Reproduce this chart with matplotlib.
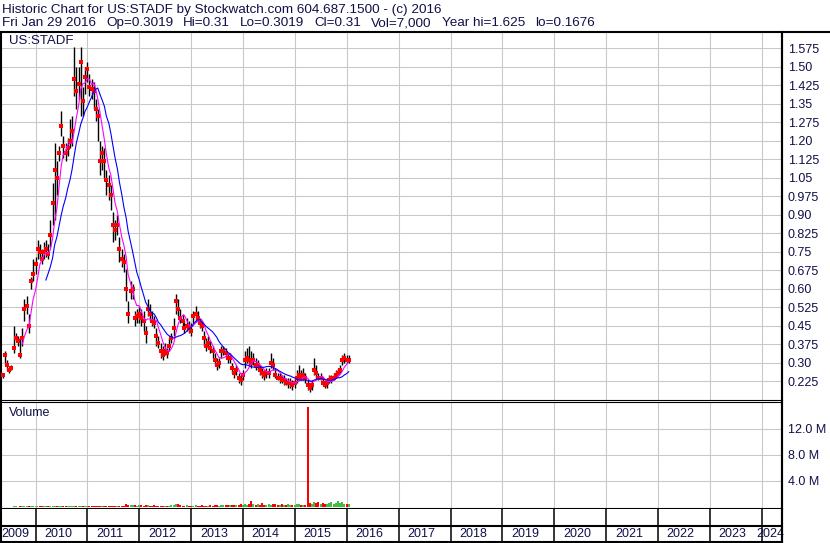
import matplotlib
matplotlib.use("Agg")
import matplotlib.pyplot as plt
from matplotlib.lines import Line2D
import numpy as np
import pandas as pd

plt.rcParams['font.family'] = ['Liberation Sans', 'DejaVu Sans']

# semi-monthly samples, May 2009 - Jan 2016
dates = pd.date_range('2009-05-15', periods=161, freq='SMS')

close = [
    0.25, 0.33, 0.29, 0.27, 0.28, 0.36, 0.40, 0.39, 0.33, 0.40,
    0.52, 0.53, 0.45, 0.63, 0.66, 0.70, 0.76, 0.75, 0.72, 0.75,
    0.76, 0.74, 0.82, 0.95, 1.08, 1.05, 1.15, 1.26, 1.18, 1.15,
    1.17, 1.20, 1.24, 1.45, 1.40, 1.43, 1.52, 1.36, 1.46, 1.49,
    1.42, 1.41, 1.40, 1.33, 1.30, 1.12, 1.15, 1.12, 1.04, 1.02,
    0.98, 0.86, 0.84, 0.86, 0.76, 0.72, 0.71, 0.60, 0.50, 0.59,
    0.60, 0.48, 0.49, 0.50, 0.48, 0.47, 0.42, 0.52, 0.50, 0.47,
    0.46, 0.41, 0.38, 0.35, 0.33, 0.35, 0.34, 0.37, 0.40, 0.44,
    0.55, 0.52, 0.48, 0.47, 0.44, 0.45, 0.44, 0.43, 0.49, 0.50,
    0.48, 0.46, 0.45, 0.40, 0.37, 0.38, 0.36, 0.35, 0.31, 0.29,
    0.30, 0.35, 0.35, 0.34, 0.32, 0.32, 0.28, 0.26, 0.27, 0.24,
    0.23, 0.25, 0.31, 0.32, 0.31, 0.30, 0.31, 0.29, 0.29, 0.27,
    0.26, 0.25, 0.26, 0.26, 0.30, 0.29, 0.25, 0.24, 0.24, 0.23,
    0.23, 0.22, 0.22, 0.22, 0.21, 0.22, 0.24, 0.25, 0.24, 0.25,
    0.24, 0.21, 0.20, 0.21, 0.27, 0.26, 0.24, 0.24, 0.22, 0.21,
    0.22, 0.23, 0.24, 0.24, 0.25, 0.26, 0.27, 0.31, 0.32, 0.31,
    0.31]

high = [
    0.26, 0.35, 0.31, 0.28, 0.29, 0.45, 0.42, 0.41, 0.40, 0.44,
    0.56, 0.57, 0.50, 0.65, 0.72, 0.73, 0.80, 0.78, 0.76, 0.79,
    0.80, 0.78, 0.88, 1.03, 1.19, 1.12, 1.18, 1.32, 1.22, 1.19,
    1.21, 1.29, 1.30, 1.58, 1.50, 1.50, 1.58, 1.42, 1.50, 1.52,
    1.47, 1.45, 1.44, 1.37, 1.33, 1.20, 1.18, 1.17, 1.08, 1.06,
    1.02, 0.91, 0.88, 0.90, 0.81, 0.76, 0.74, 0.68, 0.55, 0.63,
    0.62, 0.51, 0.52, 0.53, 0.52, 0.51, 0.45, 0.56, 0.54, 0.51,
    0.49, 0.44, 0.41, 0.38, 0.37, 0.38, 0.36, 0.40, 0.42, 0.48,
    0.58, 0.56, 0.52, 0.50, 0.47, 0.48, 0.47, 0.46, 0.51, 0.53,
    0.51, 0.48, 0.47, 0.43, 0.40, 0.41, 0.39, 0.37, 0.34, 0.32,
    0.32, 0.37, 0.37, 0.36, 0.34, 0.34, 0.30, 0.28, 0.29, 0.26,
    0.25, 0.27, 0.35, 0.36, 0.37, 0.35, 0.34, 0.32, 0.31, 0.29,
    0.28, 0.27, 0.28, 0.28, 0.34, 0.32, 0.28, 0.26, 0.26, 0.25,
    0.25, 0.24, 0.24, 0.24, 0.23, 0.24, 0.27, 0.29, 0.27, 0.28,
    0.26, 0.23, 0.22, 0.23, 0.32, 0.29, 0.26, 0.26, 0.24, 0.23,
    0.24, 0.25, 0.25, 0.26, 0.27, 0.28, 0.29, 0.33, 0.34, 0.33,
    0.33]

low = [
    0.24, 0.30, 0.27, 0.26, 0.27, 0.34, 0.39, 0.37, 0.32, 0.37,
    0.47, 0.50, 0.42, 0.60, 0.63, 0.66, 0.72, 0.72, 0.70, 0.72,
    0.73, 0.72, 0.77, 0.86, 0.88, 0.98, 1.12, 1.22, 1.13, 1.12,
    1.14, 1.17, 1.18, 1.38, 1.33, 1.37, 1.30, 1.30, 1.39, 1.44,
    1.38, 1.37, 1.33, 1.28, 1.20, 1.06, 1.08, 1.05, 0.98, 0.96,
    0.92, 0.79, 0.80, 0.82, 0.71, 0.69, 0.67, 0.55, 0.46, 0.56,
    0.56, 0.45, 0.46, 0.46, 0.45, 0.43, 0.38, 0.49, 0.47, 0.45,
    0.44, 0.37, 0.36, 0.32, 0.31, 0.33, 0.32, 0.35, 0.38, 0.41,
    0.50, 0.49, 0.46, 0.44, 0.42, 0.43, 0.42, 0.41, 0.46, 0.47,
    0.46, 0.44, 0.43, 0.37, 0.35, 0.36, 0.34, 0.32, 0.29, 0.27,
    0.28, 0.32, 0.33, 0.32, 0.30, 0.30, 0.26, 0.24, 0.25, 0.22,
    0.21, 0.23, 0.28, 0.30, 0.29, 0.28, 0.29, 0.27, 0.27, 0.25,
    0.24, 0.23, 0.24, 0.24, 0.28, 0.27, 0.24, 0.23, 0.22, 0.22,
    0.21, 0.21, 0.20, 0.20, 0.19, 0.20, 0.22, 0.23, 0.23, 0.23,
    0.22, 0.19, 0.18, 0.19, 0.25, 0.24, 0.23, 0.23, 0.21, 0.20,
    0.20, 0.22, 0.22, 0.23, 0.24, 0.25, 0.26, 0.29, 0.30, 0.30,
    0.30]

# volume in millions of shares
volume_m = [
    0.05, 0.08, 0.04, 0.06, 0.05, 0.10, 0.12, 0.08, 0.09, 0.11,
    0.15, 0.13, 0.10, 0.14, 0.12, 0.09, 0.11, 0.13, 0.10, 0.12,
    0.14, 0.10, 0.16, 0.18, 0.15, 0.12, 0.14, 0.16, 0.12, 0.10,
    0.13, 0.11, 0.15, 0.17, 0.14, 0.12, 0.16, 0.13, 0.11, 0.12,
    0.10, 0.12, 0.14, 0.11, 0.13, 0.15, 0.12, 0.14, 0.16, 0.13,
    0.11, 0.15, 0.18, 0.16, 0.20, 0.17, 0.22, 0.45, 0.35, 0.30,
    0.25, 0.28, 0.22, 0.30, 0.26, 0.20, 0.24, 0.30, 0.22, 0.18,
    0.25, 0.20, 0.18, 0.22, 0.17, 0.20, 0.15, 0.18, 0.25, 0.30,
    0.50, 0.40, 0.28, 0.22, 0.20, 0.25, 0.18, 0.22, 0.20, 0.26,
    0.22, 0.19, 0.24, 0.20, 0.18, 0.22, 0.28, 0.20, 0.25, 0.30,
    0.22, 0.35, 0.28, 0.30, 0.25, 0.38, 0.30, 0.25, 0.32, 0.28,
    0.40, 0.30, 0.45, 0.35, 0.50, 0.85, 0.40, 0.35, 0.42, 0.30,
    0.55, 0.38, 0.30, 0.45, 0.35, 0.50, 0.40, 0.32, 0.38, 0.45,
    0.35, 0.30, 0.42, 0.38, 0.35, 0.30, 0.40, 0.45, 0.38, 0.30,
    0.35, 15.3, 0.60, 0.45, 0.80, 0.55, 0.70, 0.40, 0.65, 0.50,
    0.45, 0.60, 0.75, 0.40, 0.55, 0.95, 0.60, 0.70, 0.50, 0.45,
    0.40]

price_ticks = [0.225, 0.30, 0.375, 0.45, 0.525, 0.60, 0.675, 0.75, 0.825, 0.90,
               0.975, 1.05, 1.125, 1.20, 1.275, 1.35, 1.425, 1.50, 1.575]
price_labels = ['0.225', '0.30', '0.375', '0.45', '0.525', '0.60', '0.675', '0.75', '0.825',
                '0.90', '0.975', '1.05', '1.125', '1.20', '1.275', '1.35', '1.425', '1.50', '1.575']
vol_ticks = [4, 8, 12]
vol_labels = ['4.0 M', '8.0 M', '12.0 M']
years = list(range(2009, 2025))

header1 = "Historic Chart for US:STADF by Stockwatch.com 604.687.1500 - (c) 2016"
header2 = ["Fri Jan 29 2016", "Op=0.3019", "Hi=0.31", "Lo=0.3019", "Cl=0.31",
           "Vol=7,000", "Year hi=1.625", "lo=0.1676"]

assert len(close) == len(high) == len(low) == len(volume_m) == len(dates)

W, H = 830, 543
TXT = '#101048'
GRID = '#c8c8c8'


def box(x0, y0, x1, y1):
    return [x0 / W, 1 - y1 / H, (x1 - x0) / W, (y1 - y0) / H]


fig = plt.figure(figsize=(W / 100, H / 100), dpi=100)
ax_p = fig.add_axes(box(1, 33, 782, 400))
ax_v = fig.add_axes(box(1, 402, 782, 509), sharex=ax_p)
ax_s = fig.add_axes(box(1, 509, 782, 542), sharex=ax_p)

year_starts = [pd.Timestamp(f'{y}-01-01') for y in years[1:]]
ax_p.set_xlim(pd.Timestamp('2009-05-03'), pd.Timestamp('2024-05-23'))

# price panel
ma_fast = pd.Series(close).rolling(5).mean()
ma_slow = pd.Series(close).rolling(12).mean()
ax_p.vlines(dates, low, high, color='black', lw=1.0, zorder=3)
ax_p.plot(dates, close, 's', color='red', ms=2.2, mew=0, zorder=4)
ax_p.plot(dates[9:], ma_fast[9:], color='#ff00ff', lw=0.8, zorder=5)
ax_p.plot(dates[20:], ma_slow[20:], color='#0000ff', lw=0.8, zorder=5)
ax_p.set_ylim(0.1496, 1.637)
ax_p.yaxis.tick_right()
ax_p.set_yticks(price_ticks, price_labels)

# volume panel, red for down periods and green for up
prev = np.r_[close[0], close[:-1]]
vcol = ['#44bb44' if c >= p else '#ff0000' for c, p in zip(close, prev)]
ax_v.bar(dates, volume_m, width=14, color=vcol, linewidth=0, zorder=3)
ax_v.set_ylim(-0.3, 16.05)
ax_v.yaxis.tick_right()
ax_v.set_yticks(vol_ticks, vol_labels)

for ax in (ax_p, ax_v):
    ax.set_xticks(year_starts)
    ax.grid(True, color=GRID, lw=0.75, zorder=0)
    ax.tick_params(axis='x', length=0, labelbottom=False)
    ax.tick_params(axis='y', length=0, pad=4.3, labelsize=9, labelcolor=TXT)
    for s in ax.spines.values():
        s.set_color('black')
    ax.spines['left'].set_linewidth(1.5)
    ax.spines['right'].set_linewidth(1.5)
ax_p.spines['top'].set_visible(False)
ax_p.spines['bottom'].set_linewidth(0.8)
ax_v.spines['top'].set_linewidth(0.8)
ax_v.spines['bottom'].set_linewidth(1.5)

# year strip
ax_s.set_ylim(0, 1)
ax_s.set_yticks([])
ax_s.tick_params(axis='x', length=0, labelbottom=False)
ax_s.vlines(year_starts, 0, 1, color='black', lw=1.1)
ax_s.axhline(0.5, color='black', lw=1.5)
for s in ax_s.spines.values():
    s.set_linewidth(1.5)
ax_s.spines['top'].set_visible(False)
for y in years:
    if y == 2009:
        xc = pd.Timestamp('2009-08-10')
    elif y == 2024:
        xc = pd.Timestamp('2024-02-28')
    else:
        xc = pd.Timestamp(f'{y}-06-10')
    ax_s.text(xc, 0.24, str(y), ha='center', va='center', fontsize=9, color=TXT)

# header: second line laid out field by field with a fixed gap
fig.text(2 / W, 1 - 10 / H, header1, ha='left', va='center', fontsize=9.7, color=TXT)
renderer = fig.canvas.get_renderer()
px = 2
for txt in header2:
    t = fig.text(px / W, 1 - 23 / H, txt, ha='left', va='center', fontsize=9.7, color=TXT)
    px = t.get_window_extent(renderer).x1 + 10
fig.add_artist(Line2D([0, 1], [1 - 31.5 / H] * 2, color='black', lw=1.5,
                      transform=fig.transFigure))
fig.add_artist(Line2D([782 / W] * 2, [1 - 31.5 / H, 0], color='black', lw=1.5,
                      transform=fig.transFigure))
fig.text(9 / W, 1 - 41.5 / H, 'US:STADF', ha='left', va='center', fontsize=9.5, color=TXT)
fig.text(9 / W, 1 - 413 / H, 'Volume', ha='left', va='center', fontsize=9, color=TXT)

fig.savefig('out.png', dpi=100)
